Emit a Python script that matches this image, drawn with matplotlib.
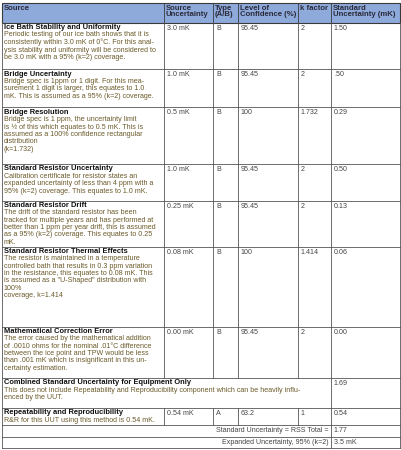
import matplotlib
matplotlib.use("Agg")
import matplotlib.pyplot as plt
from matplotlib.patches import Rectangle

plt.rcParams['font.family'] = ['Liberation Sans', 'DejaVu Sans']
W, H = 402, 450
fig = plt.figure(figsize=(W/100, H/100), dpi=100)
ax = fig.add_axes([0, 0, 1, 1])
ax.set_xlim(0, W); ax.set_ylim(H, 0); ax.axis('off')

headers = ["Source", "Source\nUncertainty", "Type\n(A/B)", "Level of\nConfidence (%)", "k factor", "Standard\nUncertainty (mK)"]
titles = ["Ice Bath Stability and Uniformity", "Bridge Uncertainty", "Bridge Resolution",
          "Standard Resistor Uncertainty", "Standard Resistor Drift", "Standard Resistor Thermal Effects",
          "Mathematical Correction Error"]
descs = [
    "Periodic testing of our ice bath shows that it is\nconsistently within 3.0 mK of 0°C. For this anal-\nysis stability and uniformity will be considered to\nbe 3.0 mK with a 95% (k=2) coverage.",
    "Bridge spec is 1ppm or 1 digit. For this mea-\nsurement 1 digit is larger, this equates to 1.0\nmK. This is assumed as a 95% (k=2) coverage.",
    "Bridge spec is 1 ppm, the uncertainty limit\nis ½ of this which equates to 0.5 mK. This is\nassumed as a 100% confidence rectangular\ndistribution\n(k=1.732)",
    "Calibration certificate for resistor states an\nexpanded uncertainty of less than 4 ppm with a\n95% (k=2) coverage. This equates to 1.0 mK.",
    "The drift of the standard resistor has been\ntracked for multiple years and has performed at\nbetter than 1 ppm per year drift, this is assumed\nas a 95% (k=2) coverage. This equates to 0.25\nmK.",
    "The resistor is maintained in a temperature\ncontrolled bath that results in 0.3 ppm variation\nin the resistance, this equates to 0.08 mK. This\nis assumed as a \"U-Shaped\" distribution with\n100%\ncoverage, k=1.414",
    "The error caused by the mathematical addition\nof .0010 ohms for the nominal .01°C difference\nbetween the ice point and TPW would be less\nthan .001 mK which is insignificant in this un-\ncertainty estimation.",
]
src_unc = ["3.0 mK", "1.0 mK", "0.5 mK", "1.0 mK", "0.25 mK", "0.08 mK", "0.00 mK"]
types = ["B", "B", "B", "B", "B", "B", "B"]
conf = ["95.45", "95.45", "100", "95.45", "95.45", "100", "95.45"]
kfac = ["2", "2", "1.732", "2", "2", "1.414", "2"]
std_unc = ["1.50", ".50", "0.29", "0.50", "0.13", "0.06", "0.00"]
comb_title = "Combined Standard Uncertainty for Equipment Only"
comb_desc = "This does not include Repeatability and Reproducibility component which can be heavily influ-\nenced by the UUT."
comb_val = "1.69"
rr = ["Repeatability and Reproducibility", "R&R for this UUT using this method is 0.54 mK.", "0.54 mK", "A", "63.2", "1", "0.54"]
rss_label, rss_val = "Standard Uncertainty = RSS Total =", "1.77"
exp_label, exp_val = "Expanded Uncertainty, 95% (k=2)", "3.5 mK"

cols = [2, 164, 213, 238, 298, 331, 400]
rows = [3, 22.5, 69, 107, 164, 200.5, 246.5, 326.5, 378, 408, 425, 436.5, 447.5]
fs = 5.1
desc_c = '#6b5a2a'
lc = '#555555'
lw = 0.6
ls = 1.08

ax.add_patch(Rectangle((cols[0], rows[0]), cols[-1]-cols[0], rows[1]-rows[0], fc='#8eaadb', ec='#3a3a3a', lw=0.8))
for i, h in enumerate(headers):
    ax.text(cols[i]+2, rows[0]+1.5, h, fontsize=fs+0.5, fontweight='bold', color='#2a2a3a', va='top', ha='left', linespacing=1.0)
for c in cols[1:-1]:
    ax.plot([c, c], [rows[0], rows[1]], color='#3a3a3a', lw=0.6)

def hline(y, x0=cols[0], x1=cols[-1]):
    ax.plot([x0, x1], [y, y], color=lc, lw=lw)
def vline(x, y0, y1):
    ax.plot([x, x], [y0, y1], color=lc, lw=lw)

for r in range(7):
    y0, y1 = rows[r+1], rows[r+2]
    ax.text(cols[0]+2, y0+1.5, titles[r], fontsize=fs+0.3, fontweight='bold', color='#111111', va='top')
    ax.text(cols[0]+2, y0+8.8, descs[r], fontsize=fs, color=desc_c, va='top', linespacing=ls)
    for j, v in enumerate([src_unc[r], types[r], conf[r], kfac[r], std_unc[r]]):
        ax.text(cols[j+1]+3, y0+2, v, fontsize=fs, color='#444444', va='top')
    for c in cols:
        vline(c, y0, y1)
    hline(y1)

y0, y1 = rows[8], rows[9]
ax.text(cols[0]+2, y0+1.5, comb_title, fontsize=fs+0.3, fontweight='bold', color='#111111', va='top')
ax.text(cols[0]+2, y0+8.8, comb_desc, fontsize=fs, color=desc_c, va='top', linespacing=ls)
ax.text(cols[5]+3, y0+2, comb_val, fontsize=fs, color='#444444', va='top')
for c in [cols[0], cols[5], cols[6]]:
    vline(c, y0, y1)
hline(y1)

y0, y1 = rows[9], rows[10]
ax.text(cols[0]+2, y0+1.5, rr[0], fontsize=fs+0.3, fontweight='bold', color='#111111', va='top')
ax.text(cols[0]+2, y0+8.8, rr[1], fontsize=fs, color=desc_c, va='top')
for j, v in enumerate(rr[2:]):
    ax.text(cols[j+1]+3, y0+2, v, fontsize=fs, color='#444444', va='top')
for c in cols:
    vline(c, y0, y1)
hline(y1)

for k, (lab, val) in enumerate([(rss_label, rss_val), (exp_label, exp_val)]):
    y0, y1 = rows[10+k], rows[11+k]
    ax.text(cols[5]-2, (y0+y1)/2, lab, fontsize=fs, color='#444444', va='center', ha='right')
    ax.text(cols[5]+3, (y0+y1)/2, val, fontsize=fs, color='#444444', va='center')
    for c in [cols[0], cols[5], cols[6]]:
        vline(c, y0, y1)
    hline(y1)

fig.savefig("out.png", dpi=100, facecolor='white')
